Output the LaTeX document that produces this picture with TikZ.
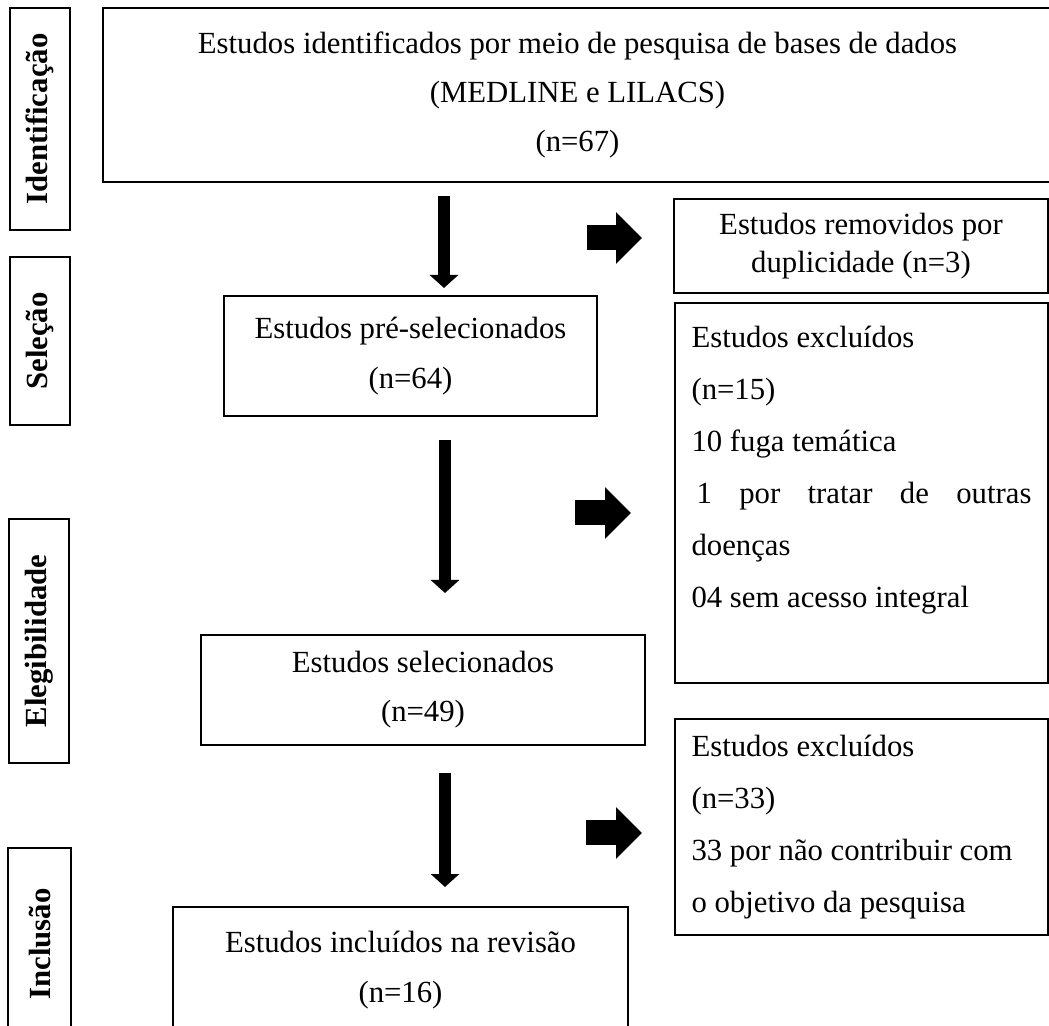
\documentclass[tikz,border=0pt]{standalone}
\usepackage{fontspec}
\setmainfont{Liberation Serif}
\usetikzlibrary{arrows.meta}

\begin{document}
\begin{tikzpicture}
    [ x = .02cm, y = -.02cm
    , box/.style =
      { draw, line width = 1.1pt, inner sep = 0pt, align = center
      , font = \fontsize{17.5}{28}\selectfont }
    , exclbox/.style =
      { box, align = flush left, text width = 6.8cm, inner xsep = .33cm
      , font = \fontsize{17.5}{29.6}\selectfont }
    , stage/.style =
      { draw, line width = 1.1pt, inner sep = 0pt, rotate = 90
      , minimum height = 1.2cm, font = \fontsize{17.5}{21}\selectfont\bfseries }
    , downarrow/.style =
      { line width = .24cm, -{Triangle[width = .56cm, length = .26cm]} }
    , sidearrow/.style =
      { line width = .5cm, -{Triangle[width = 1cm, length = .52cm]} }
    ]
    \useasboundingbox (0,0) rectangle (1049,1026);
    \clip (0,0) rectangle (1049,1026);

    \node [stage, minimum width = 4.44cm] (lid) at (40,119) {Identificação};
    \node [stage, minimum width = 3.36cm] (lsel) at (40,341) {Seleção};
    \node [stage, minimum width = 4.88cm] (leleg) at (39,641) {Elegibilidade};
    \node [stage, minimum width = 3.84cm, minimum height = 1.26cm] (linc) at (39.5,944) {Inclusão};

    \node [box, minimum width = 18.98cm, minimum height = 3.48cm] (ident) at (577.5,95)
      {Estudos identificados por meio de pesquisa de bases de dados\\ (MEDLINE e LILACS)\\ (n=67)};
    \node [box, minimum width = 7.48cm, minimum height = 1.88cm, font = \fontsize{17.5}{21.6}\selectfont] (dup) at (861,246)
      {Estudos removidos por\\ duplicidade (n=3)};
    \node [box, minimum width = 7.46cm, minimum height = 2.4cm] (pre) at (410.5,356)
      {Estudos pré-selecionados\\ (n=64)};
    \node [exclbox, minimum width = 7.46cm, minimum height = 7.6cm] (exc1) at (861.5,493)
      {Estudos excluídos\\ (n=15)\\ 10 fuga temática\\
       \hspace*{.1cm}1\hfill por\hfill tratar\hfill de\hfill outras\\ doenças\\
       04 sem acesso integral\\ \mbox{}};
    \node [box, minimum width = 8.88cm, minimum height = 2.2cm] (sel) at (423,690)
      {Estudos selecionados\\ (n=49)};
    \node [exclbox, minimum width = 7.46cm, minimum height = 4.32cm] (exc2) at (861.5,827)
      {Estudos excluídos\\ (n=33)\\ 33 por não contribuir com\\ o objetivo da pesquisa};
    \node [box, minimum width = 9.1cm, minimum height = 2.52cm] (inc) at (400.5,970)
      {Estudos incluídos na revisão\\ (n=16)};

    \coordinate (d1a) at (444,196);
    \coordinate (d1b) at (444,288);
    \coordinate (d2a) at (445,440);
    \coordinate (d2b) at (445,593);
    \coordinate (d3a) at (445,773);
    \coordinate (d3b) at (445,887);
    \coordinate (r1a) at (587,238);
    \coordinate (r1b) at (642,238);
    \coordinate (r2a) at (575,513);
    \coordinate (r2b) at (631,513);
    \coordinate (r3a) at (586,833);
    \coordinate (r3b) at (642,833);

    \draw [downarrow] (d1a) -- (d1b);
    \draw [downarrow] (d2a) -- (d2b);
    \draw [downarrow] (d3a) -- (d3b);
    \draw [sidearrow] (r1a) -- (r1b);
    \draw [sidearrow] (r2a) -- (r2b);
    \draw [sidearrow] (r3a) -- (r3b);
  \end{tikzpicture}
\end{document}
